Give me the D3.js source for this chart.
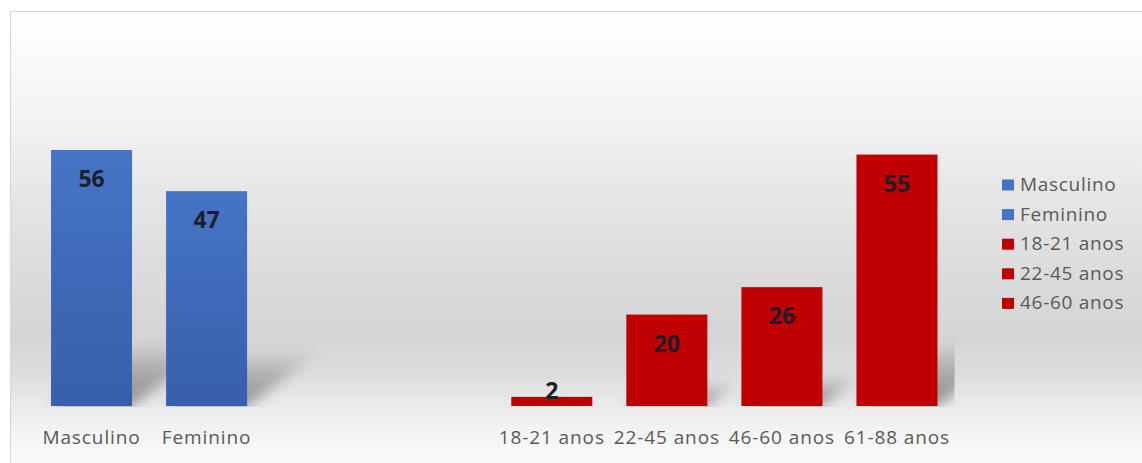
<!DOCTYPE html>
<html>
<head>
<meta charset="utf-8">
<script src="https://cdn.jsdelivr.net/npm/d3@7"></script>
<style>
  html, body { margin: 0; padding: 0; background: #ffffff; }
  svg { display: block; }
  text { font-family: "Open Sans", "Liberation Sans", sans-serif; }
</style>
</head>
<body>
<svg id="chart" width="1142" height="463"></svg>
<script>
// Respondents by sex and by age group
const sexCategories = ["Masculino", "Feminino"];
const sexValues = [56, 47];
const ageCategories = ["18-21 anos", "22-45 anos", "46-60 anos", "61-88 anos"];
const ageValues = [2, 20, 26, 55];
// two empty slots separate the two groups on the shared axis
const gapSlots = ["gap-1", "gap-2"];
// legend entries as shown in the (clipped) legend box
const legendLabels = ["Masculino", "Feminino", "18-21 anos", "22-45 anos", "46-60 anos"];
const legendGroups = ["sex", "sex", "age", "age", "age"];
const yMax = 60;

const colors = { sex: "#4472c4", age: "#c00000" };

const bars = [
  ...sexCategories.map((c, i) => ({ key: c, value: sexValues[i], group: "sex" })),
  ...ageCategories.map((c, i) => ({ key: c, value: ageValues[i], group: "age" }))
];

const svg = d3.select("#chart");
const W = 1142, H = 463;
const frame = { x: 10, y: 11 };
const plot = { left: 34, right: 954.5, top: 131.7, bottom: 406 };

const defs = svg.append("defs");

// chart area background: white → light grey → white
const bg = defs.append("linearGradient")
  .attr("id", "bgGrad").attr("gradientUnits", "userSpaceOnUse")
  .attr("x1", 0).attr("x2", 0).attr("y1", frame.y).attr("y2", H);
[[0, "#ffffff"], [0.05, "#fdfdfd"], [0.27, "#f1f1f1"], [0.42, "#e5e5e5"],
 [0.64, "#d8d8d8"], [0.72, "#d5d5d5"], [0.8, "#dcdcdc"], [0.87, "#eaeaea"],
 [0.94, "#f5f5f5"], [1, "#fafafa"]]
  .forEach(([o, c]) => bg.append("stop").attr("offset", o).attr("stop-color", c));

const blueGrad = defs.append("linearGradient")
  .attr("id", "blueGrad").attr("x1", 0).attr("x2", 0).attr("y1", 0).attr("y2", 1);
blueGrad.append("stop").attr("offset", 0).attr("stop-color", "#4674c6");
blueGrad.append("stop").attr("offset", 1).attr("stop-color", "#375fab");

const shadowGrad = defs.append("linearGradient")
  .attr("id", "shadowGrad").attr("x1", 0).attr("x2", 0).attr("y1", 1).attr("y2", 0);
shadowGrad.append("stop").attr("offset", 0).attr("stop-color", "#000").attr("stop-opacity", 0.4);
shadowGrad.append("stop").attr("offset", 0.55).attr("stop-color", "#000").attr("stop-opacity", 0.22);
shadowGrad.append("stop").attr("offset", 1).attr("stop-color", "#000").attr("stop-opacity", 0.02);

defs.append("filter").attr("id", "shadowBlur")
  .attr("x", "-40%").attr("y", "-40%").attr("width", "180%").attr("height", "180%")
  .append("feGaussianBlur").attr("stdDeviation", 7);

defs.append("clipPath").attr("id", "plotClip")
  .append("rect")
  .attr("x", plot.left).attr("y", frame.y)
  .attr("width", plot.right - plot.left).attr("height", plot.bottom - frame.y + 1);

// frame
svg.append("rect")
  .attr("x", frame.x + 0.5).attr("y", frame.y + 0.5)
  .attr("width", W + 20).attr("height", H - frame.y + 20)
  .attr("fill", "url(#bgGrad)")
  .attr("stroke", "#d6d6d6").attr("stroke-width", 1);

// scales
const x = d3.scaleBand()
  .domain([...sexCategories, ...gapSlots, ...ageCategories])
  .range([plot.left, plot.right])
  .paddingInner(0.296)
  .paddingOuter(0.148);

const y = d3.scaleLinear()
  .domain([0, yMax])
  .range([plot.bottom, plot.top]);

// perspective floor shadows behind each bar
svg.append("g").attr("clip-path", "url(#plotClip)")
  .selectAll("polygon")
  .data(bars)
  .join("polygon")
  .attr("points", d => {
    const x0 = x(d.key), x1 = x0 + x.bandwidth();
    const h = y(0) - y(d.value);
    const dx = 0.34 * h, dy = 0.25 * h;
    const b = y(0);
    return [[x0, b], [x1, b], [x1 + dx, b - dy], [x0 + dx, b - dy]].map(p => p.join(",")).join(" ");
  })
  .attr("fill", "url(#shadowGrad)")
  .attr("filter", "url(#shadowBlur)");

// bars
svg.append("g")
  .selectAll("rect")
  .data(bars)
  .join("rect")
  .attr("x", d => x(d.key))
  .attr("y", d => y(d.value))
  .attr("width", x.bandwidth())
  .attr("height", d => y(0) - y(d.value))
  .attr("fill", d => d.group === "sex" ? "url(#blueGrad)" : colors.age);

// value labels
svg.append("g")
  .selectAll("text")
  .data(bars)
  .join("text")
  .attr("x", d => x(d.key) + x.bandwidth() / 2)
  .attr("y", d => {
    const h = y(0) - y(d.value);
    return h > 40 ? y(d.value) + 37 : y(d.value) + 2;
  })
  .attr("text-anchor", "middle")
  .attr("font-size", 23)
  .attr("font-weight", 700)
  .attr("fill", "#1c1f2a")
  .text(d => d.value);

// category axis
const axis = d3.axisBottom(x)
  .tickValues([...sexCategories, ...ageCategories])
  .tickSize(0)
  .tickPadding(0);

const axisG = svg.append("g")
  .attr("transform", `translate(0,${plot.bottom})`)
  .call(axis);
axisG.select(".domain").remove();
axisG.selectAll("text")
  .attr("y", 37.5)
  .attr("dy", 0)
  .attr("font-size", 19)
  .attr("letter-spacing", 0.9)
  .attr("font-family", "'Open Sans', sans-serif")
  .attr("fill", "#595959");

// legend
const legend = svg.append("g").attr("transform", "translate(1002,0)");
const rows = legend.selectAll("g")
  .data(legendLabels)
  .join("g")
  .attr("transform", (d, i) => `translate(0,${191 + i * 29.6})`);
rows.append("rect")
  .attr("x", 0).attr("y", -11.5)
  .attr("width", 12).attr("height", 11)
  .attr("fill", (d, i) => colors[legendGroups[i]]);
rows.append("text")
  .attr("x", 18).attr("y", 0)
  .attr("font-size", 19)
  .attr("letter-spacing", 0.7)
  .attr("fill", "#595959")
  .text(d => d);
</script>
</body>
</html>
